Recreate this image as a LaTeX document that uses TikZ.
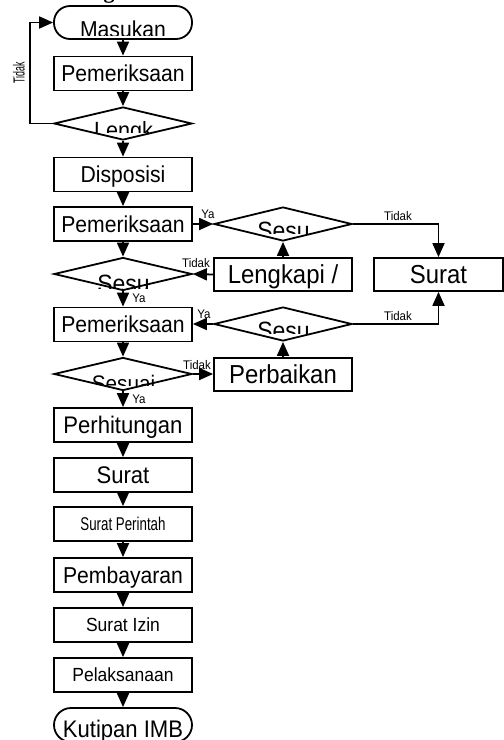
\documentclass[tikz,border=0pt]{standalone}
\usepackage{fontspec}
\setmainfont{Liberation Sans}
\newfontfamily\fa[FakeStretch=0.92]{Liberation Sans}
\newfontfamily\fn[FakeStretch=0.72]{Liberation Sans}
\newfontfamily\fv[FakeStretch=0.55]{Liberation Sans}
\newfontfamily\ftitle{Liberation Serif}
\usetikzlibrary{shapes.geometric,arrows.meta}
\newcommand\fsz[1]{\fontsize{#1}{#1}\selectfont}
\begin{document}
\begin{tikzpicture}[x=1pt,y=-1pt,
  procbox/.style={draw,line width=1.8pt,minimum width=138pt,minimum height=34pt,inner sep=0pt,text depth=0pt},
  termbox/.style={draw,line width=1.8pt,minimum width=138pt,minimum height=33pt,inner sep=0pt,rounded corners=16pt},
  decbox/.style={draw,shape=diamond,line width=1.8pt,minimum width=138pt,minimum height=33pt,inner sep=0pt},
  flow/.style={line width=1.8pt,-{Triangle[length=14pt,width=12pt]}},
  lab/.style={font=\fa\fsz{12.5},inner sep=0pt},
  cliptext/.style={anchor=base,inner sep=0pt}]
\useasboundingbox (0,0) rectangle (504,740);
\fill[white] (0,0) rectangle (504,740);

% cut title glyph at top
\node[anchor=base,inner sep=0pt,font=\ftitle\bfseries\fsz{22}] (title) at (109,-2) {g};

% main column
\node[termbox] (mas) at (123,22.5) {};
\begin{scope}\clip (56,8) rectangle (190,35.7);
\node[cliptext,font=\fa\fsz{23}] (mast) at (123,37.2) {Masukan};
\end{scope}

\node[procbox,font=\fa\fsz{23},text height=16.5pt] (pem1) at (123,73.5) {Pemeriksaan};

\node[decbox] (d1) at (123,123.5) {};
\begin{scope}\clip (60,108) rectangle (186,132.7);
\node[cliptext,font=\fa\fsz{23.5}] (d1t) at (123.5,138.5) {Lengk};
\end{scope}

\node[procbox,font=\fa\fsz{23},text height=16.5pt] (disp) at (123,174.5) {Disposisi};
\node[procbox,font=\fa\fsz{23},text height=16.5pt] (pem2) at (123,224) {Pemeriksaan};

\node[decbox] (d2) at (123,274) {};
\begin{scope}\clip (60,258) rectangle (186,288);
\node[cliptext,font=\fa\fsz{25}] (d2t) at (123.5,292.9) {Sesu};
\end{scope}

\node[procbox,font=\fa\fsz{23},text height=16.5pt] (pem3) at (123,324.5) {Pemeriksaan};

\node[decbox] (d4) at (123,374) {};
\begin{scope}\clip (60,358) rectangle (186,385);
\node[cliptext,font=\fa\fsz{22.5}] (d4t) at (123.5,391) {Sesuai};
\end{scope}

\node[procbox,font=\fa\fsz{24},text height=17.2pt] (perh) at (123,425) {Perhitungan};
\node[procbox,font=\fa\fsz{24},text height=17.2pt] (sur) at (123,475) {Surat};
\node[procbox,font=\fn\fsz{18.5},text height=13.3pt] (sp) at (123,524) {Surat Perintah};
\node[procbox,font=\fa\fsz{23},text height=16.5pt] (pemb) at (123,575) {Pembayaran};
\node[procbox,font=\fa\fsz{19},text height=13.6pt] (si) at (123,625) {Surat Izin};
\node[procbox,font=\fa\fsz{19},text height=13.6pt] (pel) at (123,675) {Pelaksanaan};
\node[termbox,minimum height=34pt,rounded corners=17pt] (kut) at (123,725) {};
\node[cliptext,font=\fa\fsz{24}] (kutt) at (123,737.4) {Kutipan IMB};

% right column
\node[decbox,minimum height=34pt] (d3) at (283,224) {};
\begin{scope}\clip (220,208) rectangle (346,233.3);
\node[cliptext,font=\fa\fsz{25}] (d3t) at (283.5,239.6) {Sesu};
\end{scope}
\node[procbox,minimum height=33pt,font=\fa\fsz{26},text height=18.6pt] (leng) at (283,274.5) {Lengkapi /};
\node[decbox,minimum height=34pt] (d5) at (283,324) {};
\begin{scope}\clip (220,308) rectangle (346,333.3);
\node[cliptext,font=\fa\fsz{25}] (d5t) at (283.5,339.6) {Sesu};
\end{scope}
\node[procbox,minimum height=33pt,font=\fa\fsz{26},text height=18.6pt] (perb) at (283,374.5) {Perbaikan};
\node[procbox,minimum width=129pt,minimum height=33pt,font=\fa\fsz{26},text height=18.6pt] (sur2) at (438.5,274.5) {Surat};

% connectors main column
\draw[flow] (mas) -- (pem1);
\draw[flow] (pem1) -- (d1);
\draw[flow] (d1) -- (disp);
\draw[flow] (disp) -- (pem2);
\draw[flow] (pem2) -- (d2);
\draw[flow] (d2) -- (pem3);
\draw[flow] (pem3) -- (d4);
\draw[flow] (d4) -- (perh);
\draw[flow] (perh) -- (sur);
\draw[flow] (sur) -- (sp);
\draw[flow] (sp) -- (pemb);
\draw[flow] (pemb) -- (si);
\draw[flow] (si) -- (pel);
\draw[flow] (pel) -- (kut);

% loop back
\draw[flow] (d1.west) -- ++(-23,0) |- (mas.west);
\node[font=\fv\fsz{16},inner sep=0pt,rotate=90] (tid0) at (19,72.5) {Tidak};

% right side connectors
\draw[flow] (pem2.east) -- (d3.west);
\draw[flow] (d3.east) -| (sur2.north);
\draw[flow] (leng.north) -- (d3.south);
\draw[flow] (leng.west) -- (d2.east);
\draw[flow] (d5.west) -- (pem3.east |- d5.west);
\draw[flow] (d5.east) -| (sur2.south);
\draw[flow] (perb.north) -- (d5.south);
\draw[flow] (d4.east) -- (perb.west |- d4.east);

% labels
\node[lab] (ya1) at (208,214) {Ya};
\node[lab] (ti1) at (398,216) {Tidak};
\node[lab] (ti2) at (196,263) {Tidak};
\node[lab] (ya2) at (139,298.5) {Ya};
\node[lab] (ya3) at (204,314) {Ya};
\node[lab] (ti3) at (398,316) {Tidak};
\node[lab] (ti4) at (197,365.5) {Tidak};
\node[lab] (ya4) at (139,399) {Ya};
\end{tikzpicture}
\end{document}
